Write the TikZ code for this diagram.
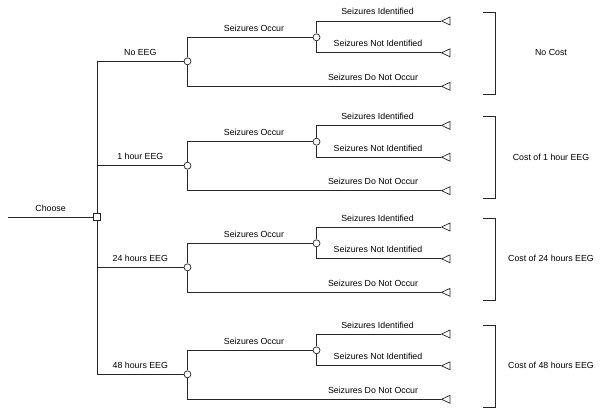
\documentclass[tikz,border=0pt]{standalone}
\usepackage{fontspec}
\setmainfont{Liberation Sans}
\usetikzlibrary{shapes.geometric}
\begin{document}
\begin{tikzpicture}[x=1pt,y=-1pt,
  line/.style={draw=black!85,line width=0.7pt},
  dec/.style={draw=black!85,line width=0.7pt,fill=white,rectangle,minimum size=7pt,inner sep=0pt},
  chance/.style={draw=black!85,line width=0.7pt,fill=white,circle,minimum size=7pt,inner sep=0pt},
  term/.style={draw=black!85,line width=0.7pt,isosceles triangle,shape border rotate=180,
    isosceles triangle stretches,minimum width=8pt,minimum height=8.5pt,inner sep=0pt},
  lab/.style={font=\fontsize{8.8}{10}\selectfont,anchor=base,yshift=6pt,inner sep=0pt},
  cost/.style={font=\fontsize{8.8}{10}\selectfont,anchor=center,inner sep=0pt}]
\useasboundingbox (0,0) rectangle (601,417);
\node[dec] (d) at (97,217.3) {};
\coordinate (s) at (8,217.3);
\draw[line] (s) -- node[lab,midway]{Choose} (d);
\foreach \i/\c/\name/\cost in {1/61.3/No EEG/No Cost,2/165.7/1 hour EEG/Cost of 1 hour EEG,3/267.3/24 hours EEG/Cost of 24 hours EEG,4/374.3/48 hours EEG/Cost of 48 hours EEG}{
  \node[chance] (c\i) at (187.5,\c) {};
  \node[chance] (o\i) at (316.5,\c-24) {};
  \node[term] (ti\i) at (447.5,\c-40.3) {};
  \node[term] (tn\i) at (447.5,\c-8.5) {};
  \node[term] (tq\i) at (447.5,\c+25) {};
  \draw[line] (d) |- node[lab,pos=0.75]{\name} (c\i);
  \draw[line] (c\i) |- (o\i);
  \node[lab] (l\i) at (254,\c-24) {Seizures Occur};
  \draw[line] (c\i) |- (tq\i.apex);
  \node[lab] (q\i) at (373,\c+25) {Seizures Do Not Occur};
  \draw[line] (o\i) |- (ti\i.apex);
  \node[lab] (a\i) at (377.5,\c-40.3) {Seizures Identified};
  \draw[line] (o\i) |- (tn\i.apex);
  \node[lab] (b\i) at (378,\c-8.5) {Seizures Not Identified};
  \draw[line] (483,\c-49.3) -- (495,\c-49.3) -- (495,\c+32.7) -- (483,\c+32.7);
  \node[cost] (k\i) at (551,\c-8.5) {\cost};
}
\end{tikzpicture}
\end{document}
